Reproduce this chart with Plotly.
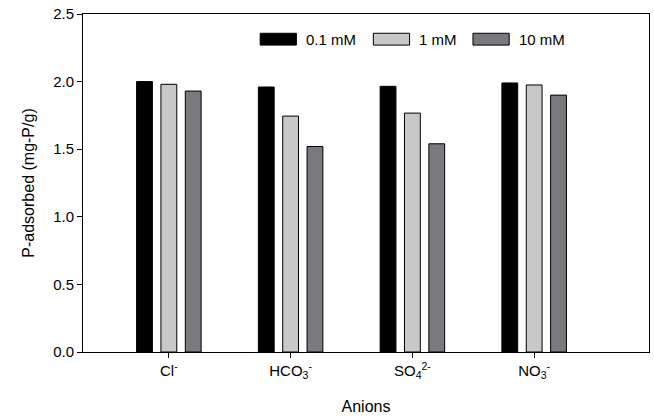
import plotly.graph_objects as go

# Anion categories (tick labels with sub/superscripts)
anions = ["Cl<sup>-</sup>", "HCO<sub>3</sub><sup>-</sup>",
          "SO<sub>4</sub><sup>2-</sup>", "NO<sub>3</sub><sup>-</sup>"]

# P adsorbed (mg-P/g) at each anion concentration
p_01mM = [2.00, 1.96, 1.965, 1.99]
p_1mM = [1.98, 1.745, 1.767, 1.975]
p_10mM = [1.93, 1.52, 1.54, 1.90]

series = [
    ("0.1 mM", p_01mM, "#000000"),
    ("1 mM", p_1mM, "#c8c8c8"),
    ("10 mM", p_10mM, "#7a7a7e"),
]

FONT = "Liberation Sans"

fig = go.Figure()
xpos = list(range(len(anions)))
for name, vals, color in series:
    fig.add_trace(go.Bar(
        x=xpos, y=vals, name=name,
        marker=dict(color=color, line=dict(color="#000000", width=1)),
        showlegend=False,
    ))

# Legend drawn as wide swatches across the top of the plot
legend_items = [(0.313, "0.1 mM"), (0.513, "1 mM"), (0.689, "10 mM")]
shapes = []
annotations = []
for (x0, label), (_, _, color) in zip(legend_items, series):
    shapes.append(dict(type="rect", xref="paper", yref="paper",
                       x0=x0, x1=x0 + 0.064, y0=0.908, y1=0.943,
                       fillcolor=color, line=dict(color="#000000", width=1)))
    annotations.append(dict(xref="paper", yref="paper", x=x0 + 0.077, y=0.926,
                            text=label, showarrow=False, xanchor="left",
                            yanchor="middle",
                            font=dict(family=FONT, size=15, color="#000000")))

fig.update_layout(
    width=654, height=416,
    margin=dict(l=83, r=4, t=14, b=62),
    paper_bgcolor="white", plot_bgcolor="white",
    barmode="group", bargap=0.4, bargroupgap=0.35,
    font=dict(family=FONT, size=15, color="#000000"),
    shapes=shapes, annotations=annotations,
    xaxis=dict(
        range=[-0.705, 3.943],
        tickmode="array", tickvals=xpos, ticktext=anions,
        ticks="outside", ticklen=5, tickcolor="#000000",
        showline=True, linecolor="#000000", linewidth=1, mirror=True,
        showgrid=False, zeroline=False,
        tickfont=dict(family=FONT, size=15),
        title=dict(text="Anions", font=dict(family=FONT, size=16), standoff=20),
    ),
    yaxis=dict(
        range=[0, 2.5], tickvals=[0, 0.5, 1.0, 1.5, 2.0, 2.5],
        tickformat=".1f",
        ticks="outside", ticklen=5, tickcolor="#000000",
        showline=True, linecolor="#000000", linewidth=1, mirror=True,
        showgrid=False, zeroline=False,
        tickfont=dict(family=FONT, size=15),
        title=dict(text="P-adsorbed (mg-P/g)", font=dict(family=FONT, size=16),
                   standoff=14),
    ),
)

fig.write_html("out.html")
